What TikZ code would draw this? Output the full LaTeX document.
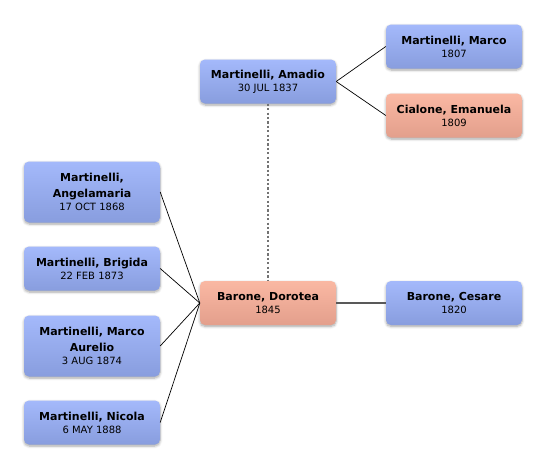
\documentclass[tikz,border=0pt]{standalone}
\usepackage{fontspec}
\setmainfont{DejaVu Sans}
\usetikzlibrary{shadows.blur}
\definecolor{bluetop}{HTML}{A4B9FB}
\definecolor{bluebot}{HTML}{889DDE}
\definecolor{redtop}{HTML}{FAB8A3}
\definecolor{redbot}{HTML}{E39F8C}
\newcommand\dte{\fontsize{10}{15}\selectfont\mdseries}
\tikzset{
  person/.style={rounded corners=5pt, minimum width=136pt, minimum height=44pt,
    align=center, inner sep=2pt, font=\fontsize{11}{15}\selectfont\bfseries,
    blur shadow={shadow xshift=0pt, shadow yshift=-1.5pt, shadow blur steps=6, shadow blur radius=2.5pt, shadow opacity=35}},
  male/.style={person, top color=bluetop, bottom color=bluebot},
  female/.style={person, top color=redtop, bottom color=redbot},
  link/.style={draw=black, line width=0.7pt},
  spouse/.style={draw=black!65, line width=1.5pt},
  parentlink/.style={draw=black!55, line width=1.5pt, dash pattern=on 2.2pt off 2.2pt},
}
\begin{document}
\begin{tikzpicture}[x=1pt, y=-1pt]
\useasboundingbox (0,0) rectangle (546,469);
\node[male]   (amadio)   at (268,81.5)    {Martinelli, Amadio\\[-2pt]\dte 30 JUL 1837};
\node[male]   (marco)    at (454,46.5)    {Martinelli, Marco\\[-2pt]\dte 1807};
\node[female] (emanuela) at (454,115.5)   {Cialone, Emanuela\\[-2pt]\dte 1809};
\node[female] (dorotea)  at (268,303) {Barone, Dorotea\\[-2pt]\dte 1845};
\node[male]   (cesare)   at (454,303) {Barone, Cesare\\[-2pt]\dte 1820};
\node[male, minimum height=61pt] (angela) at (92,192) {Martinelli,\\[1pt]Angelamaria\\[-2pt]\dte 17 OCT 1868};
\node[male]   (brigida)  at (92,268.5)    {Martinelli, Brigida\\[-2pt]\dte 22 FEB 1873};
\node[male, minimum height=61pt] (aurelio) at (92,346) {Martinelli, Marco\\[1pt]Aurelio\\[-2pt]\dte 3 AUG 1874};
\node[male]   (nicola)   at (92,422.5)    {Martinelli, Nicola\\[-2pt]\dte 6 MAY 1888};
\draw[link] (amadio.east) -- (marco.west);
\draw[link] (amadio.east) -- (emanuela.west);
\draw[parentlink] (amadio.south) -- (dorotea.north);
\draw[spouse] (dorotea.east) -- (cesare.west);
\foreach \c in {angela,brigida,aurelio,nicola}
  \draw[link] (dorotea.west) -- (\c.east);
\end{tikzpicture}
\end{document}
